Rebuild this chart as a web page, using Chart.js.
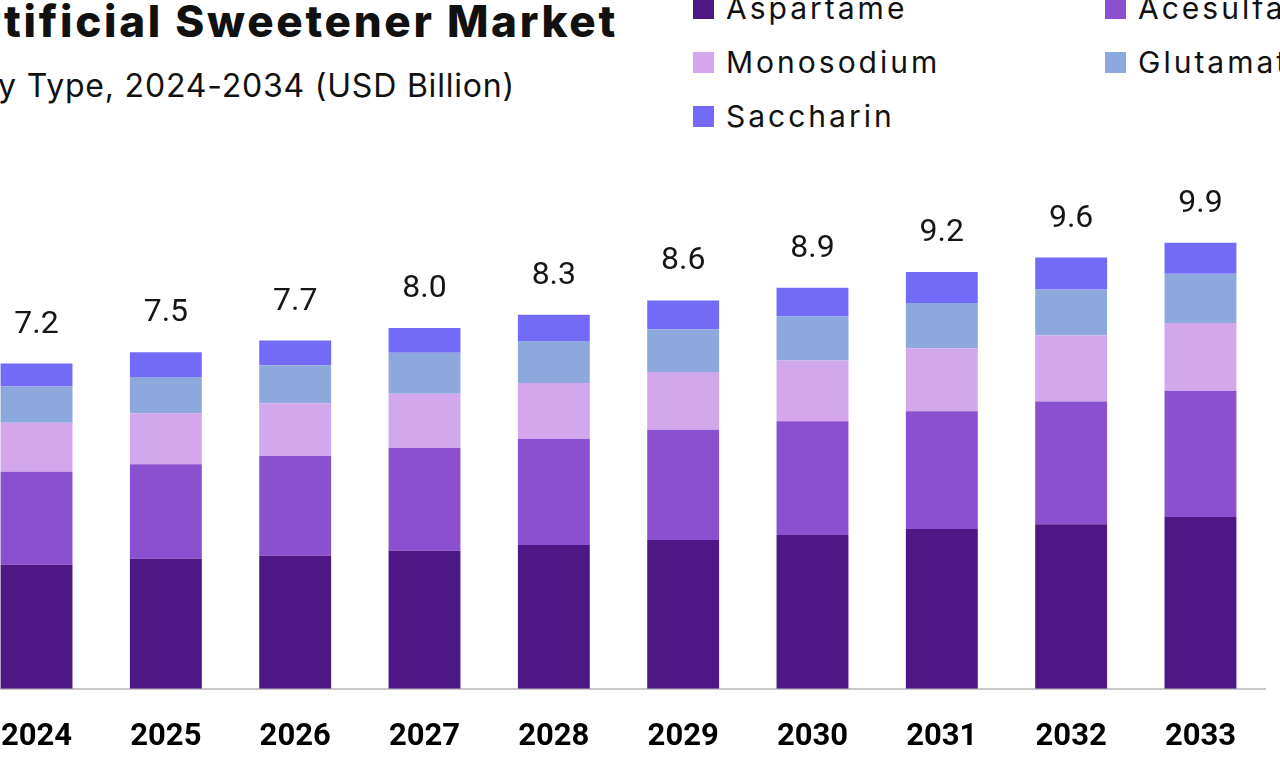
<!DOCTYPE html>
<html>
<head>
<meta charset="utf-8">
<script src="https://cdn.jsdelivr.net/npm/chart.js@4.4.1/dist/chart.umd.min.js"></script>
<style>
  html, body { margin: 0; padding: 0; background: #fff; }
  body { width: 1280px; height: 776px; overflow: hidden; position: relative; font-family: "Inter", "Open Sans", sans-serif; color: #111; }
  #chart { position: absolute; left: -29px; top: 0; }
  .title { position: absolute; right: 662px; top: -6px; white-space: nowrap; font-size: 44px; font-weight: 800; letter-spacing: 2.7px; }
  .subtitle { position: absolute; right: 765px; top: 66px; white-space: nowrap; font-size: 32px; font-weight: 400; letter-spacing: 0.8px; }
  #legend { position: absolute; left: 693px; top: -19px; display: grid; grid-template-columns: 412px 412px; grid-auto-rows: 54px; }
  .item { display: flex; align-items: center; white-space: nowrap; font-size: 30px; letter-spacing: 3px; }
  .swatch { width: 21px; height: 21px; margin-right: 12px; flex: none; }
</style>
</head>
<body>
<div class="title">Artificial Sweetener Market</div>
<div class="subtitle">By Type, 2024-2034 (USD Billion)</div>
<div id="legend"></div>
<canvas id="chart" width="1295" height="806"></canvas>
<script>
// Categories and values (USD Billion)
const years = ['2024', '2025', '2026', '2027', '2028', '2029', '2030', '2031', '2032', '2033'];
const aspartame  = [2.75, 2.88, 2.95, 3.06, 3.19, 3.30, 3.41, 3.54, 3.65, 3.81];
const acesulfame = [2.06, 2.10, 2.21, 2.28, 2.35, 2.44, 2.52, 2.61, 2.72, 2.79];
const monosodium = [1.09, 1.13, 1.17, 1.20, 1.24, 1.28, 1.35, 1.40, 1.46, 1.51];
const glutamate  = [0.80, 0.80, 0.84, 0.91, 0.93, 0.95, 0.97, 1.00, 1.02, 1.09];
const saccharin  = [0.51, 0.55, 0.55, 0.55, 0.58, 0.64, 0.64, 0.69, 0.71, 0.69];
const totalLabels = ['7.2', '7.5', '7.7', '8.0', '8.3', '8.6', '8.9', '9.2', '9.6', '9.9'];

const seriesNames = ['Aspartame', 'Acesulfame K', 'Monosodium', 'Glutamate', 'Saccharin'];
const seriesColors = ['#4e1786', '#8b50d0', '#d3a7ec', '#8da8dc', '#736bf7'];
const seriesData = [aspartame, acesulfame, monosodium, glutamate, saccharin];

// Legend (HTML, laid out in two columns like the original)
const legendEl = document.getElementById('legend');
seriesNames.forEach((name, i) => {
    const item = document.createElement('div');
    item.className = 'item';
    const sw = document.createElement('span');
    sw.className = 'swatch';
    sw.style.background = seriesColors[i];
    item.appendChild(sw);
    item.appendChild(document.createTextNode(name));
    legendEl.appendChild(item);
});

// Total value above each stack
const totalsPlugin = {
    id: 'totals',
    afterDatasetsDraw(chart) {
        const ctx = chart.ctx;
        const top = chart.getDatasetMeta(chart.data.datasets.length - 1);
        ctx.save();
        ctx.font = '400 32px Roboto, sans-serif';
        ctx.fillStyle = '#151515';
        ctx.textAlign = 'center';
        ctx.textBaseline = 'middle';
        top.data.forEach((bar, i) => {
            ctx.fillText(totalLabels[i], bar.x, bar.y - 39);
        });
        ctx.restore();
    }
};

const ctx = document.getElementById('chart').getContext('2d');
new Chart(ctx, {
    type: 'bar',
    data: {
        labels: years,
        datasets: seriesData.map((data, i) => ({
            label: seriesNames[i],
            data: data,
            backgroundColor: seriesColors[i],
            borderWidth: 0,
            barPercentage: 0.556,
            categoryPercentage: 1
        }))
    },
    options: {
        responsive: false,
        animation: false,
        layout: { padding: { top: 170, bottom: 20, left: 0, right: 0 } },
        plugins: {
            legend: { display: false },
            title: { display: false },
            tooltip: { enabled: false }
        },
        scales: {
            x: {
                stacked: true,
                grid: { display: false, drawTicks: false },
                border: { display: true, color: '#c9c9c9', width: 2 },
                ticks: {
                    color: '#000',
                    padding: 30,
                    font: { family: 'Roboto', size: 31, weight: 'bold' }
                }
            },
            y: {
                stacked: true,
                display: false,
                min: 0,
                max: 11.5
            }
        }
    },
    plugins: [totalsPlugin]
});
</script>
</body>
</html>
